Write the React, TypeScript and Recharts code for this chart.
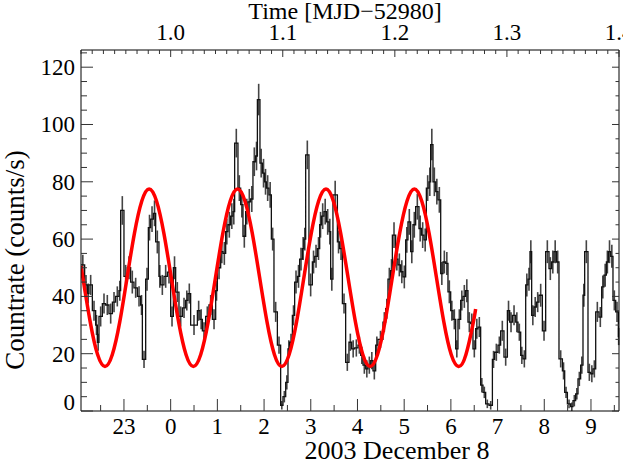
import React from 'react';
import { ComposedChart, Line, Scatter, ErrorBar, XAxis, YAxis } from 'recharts';

// light curve: start of each bin (hours from 2003 Dec 8 00:00 UT), rate and 1-sigma error
const binStart = [
  -1.92, -1.842, -1.784, -1.749, -1.677, -1.606, -1.57, -1.535, -1.463, -1.392,
  -1.321, -1.248, -1.178, -1.107, -1.071, -1.0, -0.927, -0.857, -0.786, -0.713,
  -0.642, -0.606, -0.535, -0.478, -0.428, -0.37, -0.321, -0.251, -0.214, -0.143,
  -0.071, 0.0, 0.058, 0.107, 0.178, 0.251, 0.321, 0.37, 0.428, 0.572,
  0.627, 0.679, 0.749, 0.82, 0.893, 0.964, 1.0, 1.071, 1.12, 1.178,
  1.227, 1.285, 1.334, 1.37, 1.441, 1.499, 1.548, 1.606, 1.655, 1.713,
  1.762, 1.82, 1.857, 1.912, 1.964, 2.013, 2.049, 2.105, 2.156, 2.212,
  2.285, 2.355, 2.405, 2.463, 2.512, 2.548, 2.606, 2.655, 2.713, 2.762,
  2.82, 2.854, 2.891, 2.961, 3.034, 3.084, 3.141, 3.191, 3.227, 3.283,
  3.334, 3.39, 3.426, 3.475, 3.57, 3.619, 3.677, 3.747, 3.818, 3.876,
  3.94, 4.011, 4.069, 4.118, 4.176, 4.225, 4.283, 4.332, 4.39, 4.439,
  4.546, 4.604, 4.653, 4.711, 4.747, 4.818, 4.868, 4.925, 4.974, 5.032,
  5.081, 5.139, 5.188, 5.246, 5.317, 5.368, 5.424, 5.475, 5.531, 5.567,
  5.617, 5.675, 5.724, 5.782, 5.831, 5.889, 5.938, 5.996, 6.045, 6.103,
  6.152, 6.21, 6.259, 6.317, 6.366, 6.424, 6.473, 6.531, 6.58, 6.638,
  6.688, 6.745, 6.816, 6.889, 6.938, 7.009, 7.066, 7.137, 7.21, 7.259,
  7.317, 7.388, 7.437, 7.495, 7.544, 7.602, 7.651, 7.694, 7.73, 7.78,
  7.831, 7.887, 7.959, 8.03, 8.101, 8.158, 8.208, 8.259, 8.315, 8.388,
  8.437, 8.495, 8.565, 8.615, 8.672, 8.722, 8.779, 8.829, 8.865, 8.936,
  8.994, 9.043, 9.101, 9.171, 9.229, 9.278, 9.33, 9.372, 9.422, 9.471,
  9.529, 9.586,
];

const countRate = [
  51, 44, 41, 44, 35, 30, 24, 33, 37.5, 37,
  34, 38, 40, 42, 70, 47, 50, 45, 43, 40,
  37, 18, 46, 64, 67, 69, 59, 47, 44, 47,
  48.5, 33, 50, 41.5, 33, 36, 38.6, 41, 30, 35,
  32, 28, 33, 37, 32, 42, 50, 55.6, 55, 62.6,
  65, 68, 69.6, 93.5, 77.8, 72, 61, 69.6, 73, 74,
  87, 89, 108.7, 86.5, 83, 80, 77.8, 75.4, 60, 34.6,
  23, 2, 5, 10, 21.7, 24, 33.4, 45, 47, 53,
  56.7, 60, 89.4, 44, 52, 54, 56.7, 65, 68, 69.6,
  66, 62.6, 46, 75.4, 59, 56.7, 37.5, 17, 24, 21.7,
  22, 23, 19.4, 16, 14.7, 16, 17.6, 14, 23, 25,
  31, 35.7, 46, 49, 61.4, 53, 51, 48.6, 46.8, 59.7,
  66, 55.6, 65, 71.3, 63.7, 61.4, 59.7, 77.8, 80, 93,
  80, 76.6, 73.7, 48, 52, 51.5, 41.6, 35, 32, 21.7,
  32, 38.6, 40, 42, 31, 30.5, 21.7, 28.7, 29.3, 9,
  6.5, 2.5, 2, 18, 20.5, 23, 28, 18.8, 35, 31,
  33.4, 31, 27.5, 19.4, 18.2, 44, 46, 55.6, 33.4, 36.3,
  38, 40.4, 28, 55.6, 49.7, 52, 55.6, 52, 18.2, 14,
  6.5, 2.5, 1.5, 3.6, 6, 11.2, 16, 40.4, 55.6, 13.5,
  13, 14.7, 34.6, 32.8, 43.3, 47.4, 52, 55.6, 54, 38.6,
  34.6, 26,
];

const rateError = [
  3.5, 3.5, 3.5, 3.5, 3.5, 3.5, 3, 3.5, 3.5, 3.5,
  3.5, 3.5, 3.5, 3.5, 5, 4, 4, 4, 3.5, 3.5,
  3.5, 3, 4, 4.5, 4.5, 4.5, 4, 4, 3.5, 4,
  4, 3.5, 4, 3.5, 3.5, 3.5, 3.5, 3.5, 3.5, 3.5,
  3.5, 3, 3.5, 3.5, 3.5, 3.5, 4, 4, 4, 4.5,
  4.5, 4.5, 4.5, 5, 4.5, 4.5, 4, 4.5, 4.5, 4.5,
  5, 5, 5.5, 5, 5, 4.5, 4.5, 4.5, 4, 3.5,
  3, 1.5, 2, 2.5, 3, 3, 3.5, 4, 4, 4,
  4, 4, 5, 4, 4, 4, 4, 4.5, 4.5, 4.5,
  4.5, 4.5, 4, 5, 4, 4, 3.5, 3, 3, 3,
  3, 3, 3, 3, 3, 3, 3, 3, 3, 3,
  3.5, 3.5, 4, 4, 4.5, 4, 4, 4, 4, 4.5,
  4.5, 4, 4.5, 4.5, 4.5, 4.5, 4, 4.5, 5, 5.5,
  5, 4.5, 4.5, 4, 4, 4, 4, 3.5, 3.5, 3,
  3.5, 3.5, 4, 4, 3.5, 3.5, 3, 3.5, 3.5, 2.5,
  2, 1.5, 1.5, 3, 3, 3, 3.5, 3, 3.5, 3.5,
  3.5, 3.5, 3, 3, 3, 4, 4, 4, 3.5, 3.5,
  3.5, 4, 3.5, 4, 4, 4, 4, 4, 3, 3,
  2, 1.5, 1.5, 2, 2, 2.5, 3, 4, 4, 3,
  3, 3, 3.5, 3.5, 4, 4, 4, 4, 4, 3.5,
  3.5, 3,
];

// sinusoid fit (red)
const fitTime = [
  -1.92, -1.88, -1.722, -1.565, -1.407, -1.249, -1.091, -0.934, -0.776, -0.618,
  -0.461, -0.303, -0.145, 0.013, 0.171, 0.328, 0.486, 0.644, 0.802, 0.959,
  1.117, 1.275, 1.433, 1.59, 1.748, 1.906, 2.064, 2.221, 2.379, 2.537,
  2.695, 2.852, 3.01, 3.168, 3.326, 3.483, 3.641, 3.799, 3.957, 4.114,
  4.272, 4.43, 4.588, 4.745, 4.903, 5.061, 5.219, 5.376, 5.534, 5.692,
  5.85, 6.007, 6.165, 6.323, 6.481, 6.53,
];
const fitRate = [
  50.6, 46.5, 31, 19.7, 15.5, 19.7, 31, 46.5, 62, 73.3,
  77.5, 73.3, 62, 46.5, 31, 19.7, 15.5, 19.7, 31, 46.5,
  62, 73.3, 77.5, 73.3, 62, 46.5, 31, 19.7, 15.5, 19.7,
  31, 46.5, 62, 73.3, 77.5, 73.3, 62, 46.5, 31, 19.7,
  15.5, 19.7, 31, 46.5, 62, 73.3, 77.5, 73.3, 62, 46.5,
  31, 19.7, 15.5, 19.7, 31, 35.6,
];

const hourTicks = [-1, 0, 1, 2, 3, 4, 5, 6, 7, 8, 9];
const hourLabels = ['23', '0', '1', '2', '3', '4', '5', '6', '7', '8', '9'];
const mjdMajor = [1.0, 1.1, 1.2, 1.3, 1.4];
const mjdLabels = ['1.0', '1.1', '1.2', '1.3', '1.4'];
const rateMajor = [0, 20, 40, 60, 80, 100, 120];

const T_MIN = -1.92;
const T_MAX = 9.6;
const RATE_MAX = 126;
const FONT = '"Liberation Serif", "DejaVu Serif", serif';
const TICK = '#333';

const hourMinor = Array.from({ length: 23 }, (_, i) => -1.5 + i * 0.5);
const mjdTicks = Array.from({ length: 49 }, (_, k) => (0.92 + k * 0.01 - 1) * 24);
const rateMinor = Array.from({ length: 26 }, (_, i) => i * 5);

const last = countRate.length - 1;
const stepData = binStart
  .map((t, i) => ({ t, rate: countRate[i] }))
  .concat([{ t: T_MAX, rate: countRate[last] }]);
const errData = binStart.map((t, i) => {
  const end = i < binStart.length - 1 ? binStart[i + 1] : T_MAX;
  return { t: (t + end) / 2, rate: countRate[i], err: rateError[i] ?? 3 };
});
const fitData = fitTime.map((t, i) => ({ t, rate: fitRate[i] }));

// axes are 1px thick so recharts draws them; x/y given to the tick is the axis line
const BottomTick = (props: any) => {
  const { x, y, payload } = props;
  const idx = hourTicks.indexOf(payload.value);
  const major = idx >= 0;
  return (
    <g>
      <line x1={x} x2={x} y1={y} y2={y - (major ? 12 : 6)} stroke={TICK} />
      {major && (
        <text x={x} y={y + 23} textAnchor="middle" fontSize={23} fontFamily={FONT} fill="#000">
          {hourLabels[idx]}
        </text>
      )}
    </g>
  );
};

const TopTick = (props: any) => {
  const { x, y, payload } = props;
  const mjd = payload.value / 24 + 1;
  const idx = mjdMajor.findIndex((m) => Math.abs(m - mjd) < 1e-6);
  const major = idx >= 0;
  return (
    <g>
      <line x1={x} x2={x} y1={y} y2={y + (major ? 7 : 4)} stroke={TICK} />
      {major && (
        <text x={x} y={y - 10} textAnchor="middle" fontSize={23} fontFamily={FONT} fill="#000">
          {mjdLabels[idx]}
        </text>
      )}
    </g>
  );
};

const LeftTick = (props: any) => {
  const { x, y, payload } = props;
  const v = payload.value;
  const major = rateMajor.includes(v);
  return (
    <g>
      <line x1={x} x2={x + (major ? 12 : 6)} y1={y} y2={y} stroke={TICK} />
      {major && (
        <text x={x - 6} y={v === 0 ? y - 1 : y + 8} textAnchor="end" fontSize={23} fontFamily={FONT} fill="#000">
          {v}
        </text>
      )}
    </g>
  );
};

const RightTick = (props: any) => {
  const { x, y, payload } = props;
  const major = rateMajor.includes(payload.value);
  return <line x1={x} x2={x - (major ? 7 : 3.5)} y1={y} y2={y} stroke={TICK} />;
};

export default function App() {
  return (
    <div style={{ position: 'absolute', left: 0, top: 0, width: 623, height: 467, background: '#fff' }}>
      <ComposedChart width={623} height={467} margin={{ top: 49, right: 3, bottom: 55, left: 80 }}>
        <XAxis
          xAxisId="bottom"
          dataKey="t"
          type="number"
          domain={[T_MIN, T_MAX]}
          allowDataOverflow
          ticks={hourMinor}
          interval={0}
          height={1}
          tickSize={0}
          tickMargin={0}
          tickLine={false}
          tick={BottomTick}
          axisLine={{ stroke: '#000' }}
        />
        <XAxis
          xAxisId="top"
          orientation="top"
          dataKey="t"
          type="number"
          domain={[T_MIN, T_MAX]}
          allowDataOverflow
          ticks={mjdTicks}
          interval={0}
          height={1}
          tickSize={0}
          tickMargin={0}
          tickLine={false}
          tick={TopTick}
          axisLine={{ stroke: '#000' }}
        />
        <YAxis
          yAxisId="left"
          dataKey="rate"
          type="number"
          domain={[0, RATE_MAX]}
          allowDataOverflow
          ticks={rateMinor}
          interval={0}
          width={1}
          tickSize={0}
          tickMargin={0}
          tickLine={false}
          tick={LeftTick}
          axisLine={{ stroke: '#000' }}
        />
        <YAxis
          yAxisId="right"
          orientation="right"
          dataKey="rate"
          type="number"
          domain={[0, RATE_MAX]}
          allowDataOverflow
          ticks={rateMinor}
          interval={0}
          width={1}
          tickSize={0}
          tickMargin={0}
          tickLine={false}
          tick={RightTick}
          axisLine={{ stroke: '#000' }}
        />
        <Scatter
          xAxisId="bottom"
          yAxisId="left"
          data={errData}
          dataKey="rate"
          shape={() => <g />}
          isAnimationActive={false}
        >
          <ErrorBar dataKey="err" direction="y" width={0} stroke="#444" strokeWidth={1.6} />
        </Scatter>
        <Line
          xAxisId="bottom"
          yAxisId="left"
          data={stepData}
          dataKey="rate"
          type="stepAfter"
          stroke="#111"
          strokeWidth={1.3}
          dot={false}
          isAnimationActive={false}
        />
        <Line
          xAxisId="bottom"
          yAxisId="left"
          data={fitData}
          dataKey="rate"
          type="natural"
          stroke="#ff0000"
          strokeWidth={3.5}
          dot={false}
          isAnimationActive={false}
        />
      </ComposedChart>
      <svg width={623} height={467} style={{ position: 'absolute', left: 0, top: 0, pointerEvents: 'none' }}>
        <text x={345} y={19} textAnchor="middle" fontSize={24} fontFamily={FONT} fill="#000">
          Time [MJD−52980]
        </text>
        <text x={397} y={459} textAnchor="middle" fontSize={26} fontFamily={FONT} fill="#000">
          2003 December 8
        </text>
        <text
          x={0}
          y={0}
          transform="translate(24, 260) rotate(-90)"
          textAnchor="middle"
          fontSize={27}
          fontFamily={FONT}
          fill="#000"
        >
          Countrate (counts/s)
        </text>
      </svg>
    </div>
  );
}
